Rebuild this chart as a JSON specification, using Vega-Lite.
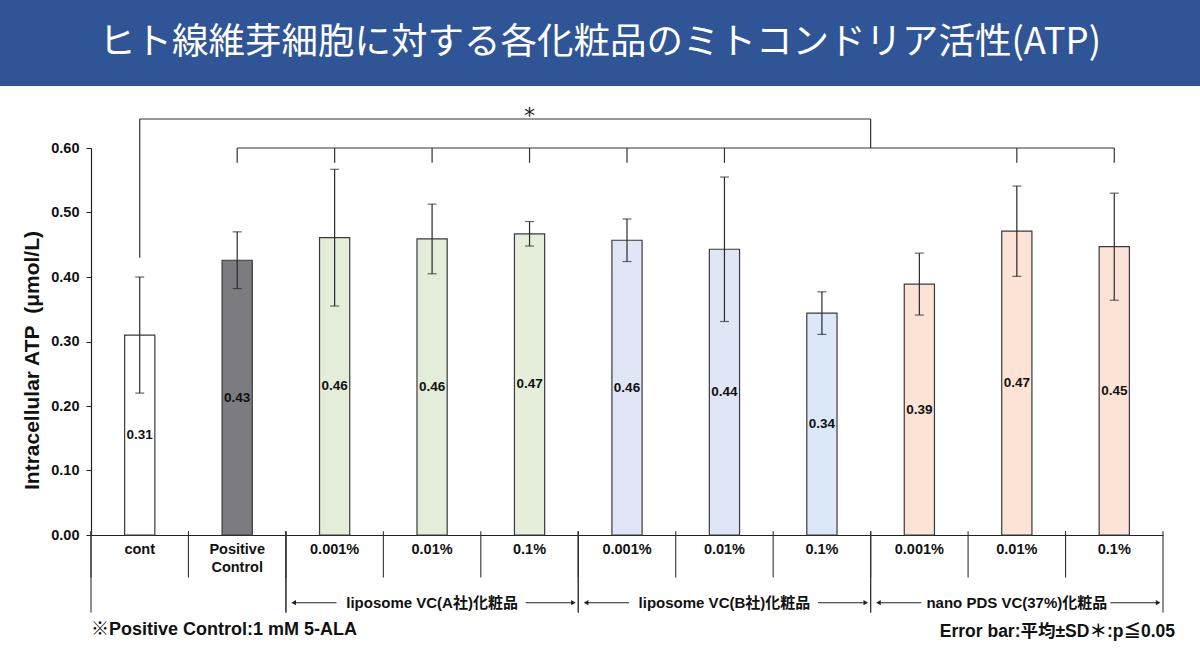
{
  "$schema": "https://vega.github.io/schema/vega-lite/v6.json",
  "padding": 0,
  "background": "white",
  "datasets": {
    "bars": [
      {"cat": "cont", "label": "cont", "mean": 0.31, "sd": 0.09},
      {"cat": "pc", "label": "Positive\nControl", "mean": 0.426, "sd": 0.044},
      {"cat": "A1", "label": "0.001%", "mean": 0.461, "sd": 0.106},
      {"cat": "A2", "label": "0.01%", "mean": 0.459, "sd": 0.054},
      {"cat": "A3", "label": "0.1%", "mean": 0.467, "sd": 0.019},
      {"cat": "B1", "label": "0.001%", "mean": 0.457, "sd": 0.033},
      {"cat": "B2", "label": "0.01%", "mean": 0.443, "sd": 0.112},
      {"cat": "B3", "label": "0.1%", "mean": 0.344, "sd": 0.033},
      {"cat": "P1", "label": "0.001%", "mean": 0.389, "sd": 0.048},
      {"cat": "P2", "label": "0.01%", "mean": 0.471, "sd": 0.07},
      {"cat": "P3", "label": "0.1%", "mean": 0.447, "sd": 0.083}
    ],
    "groups": [
      {"first": "cont", "mid": "cont", "last": "pc", "name": ""},
      {"first": "A1", "mid": "A2", "last": "A3", "name": "liposome VC(A社)化粧品"},
      {"first": "B1", "mid": "B2", "last": "B3", "name": "liposome VC(B社)化粧品"},
      {"first": "P1", "mid": "P2", "last": "P3", "name": "nano PDS VC(37%)化粧品"}
    ]
  },
  "vconcat": [
    {
      "width": 1200,
      "height": 86,
      "view": {"fill": "#2F5597", "stroke": null},
      "data": {"values": [{"t": "ヒト線維芽細胞に対する各化粧品のミトコンドリア活性(ATP)"}]},
      "mark": {"type": "text", "color": "white", "fontSize": 36.5, "font": "Noto Sans CJK JP", "baseline": "middle", "align": "center"},
      "encoding": {"text": {"field": "t"}}
    },
    {
      "hconcat": [
        {
          "width": 91,
          "height": 387,
          "data": {"values": []},
          "mark": "point"
        },
        {
          "width": 1072,
          "height": 387,
          "layer": [
            {
              "layer": [
                {
                  "data": {"name": "bars"},
                  "mark": {"type": "bar", "width": {"band": 0.31}, "stroke": "#3a3a3a", "strokeWidth": 1.2},
                  "encoding": {
                    "x": {"field": "cat", "type": "nominal", "title": null, "scale": {"type": "band", "domain": ["cont","pc","A1","A2","A3","B1","B2","B3","P1","P2","P3"], "paddingInner": 0, "paddingOuter": 0}},
                    "y": {"field": "mean", "type": "quantitative", "title": "Intracellular ATP\u00a0\u00a0(μmol/L)", "scale": {"domain": [0, 0.6], "nice": false, "zero": true}, "axis": {"values": [0, 0.1, 0.2, 0.3, 0.4, 0.5, 0.6], "format": ".2f"}},
                    "color": {"field": "cat", "type": "nominal", "legend": null, "scale": {"domain": ["cont","pc","A1","A2","A3","B1","B2","B3","P1","P2","P3"], "range": ["#ffffff","#7c7b80","#e3edd9","#e3edd9","#e4eeda","#e0e6f5","#e0e6f5","#dbe8f8","#fce3d6","#fce3d6","#fce3d6"]}}
                  }
                },
                {
                  "data": {"name": "bars"},
                  "mark": {"type": "errorbar", "ticks": true, "size": 9, "thickness": 1.2, "color": "#2a2a2a"},
                  "encoding": {
                    "x": {"field": "cat", "type": "nominal", "title": null, "scale": {"type": "band", "domain": ["cont","pc","A1","A2","A3","B1","B2","B3","P1","P2","P3"], "paddingInner": 0, "paddingOuter": 0}},
                    "y": {"field": "mean", "type": "quantitative", "title": "Intracellular ATP\u00a0\u00a0(μmol/L)", "scale": {"domain": [0, 0.6], "nice": false, "zero": true}},
                    "yError": {"field": "sd"}
                  }
                },
                {
                  "data": {"name": "bars"},
                  "mark": {"type": "rule", "color": "#333", "strokeWidth": 1.1},
                  "encoding": {
                    "x": {"field": "cat", "type": "nominal", "title": null, "bandPosition": 0, "scale": {"type": "band", "domain": ["cont","pc","A1","A2","A3","B1","B2","B3","P1","P2","P3"], "paddingInner": 0, "paddingOuter": 0}},
                    "y": {"datum": 0.006, "type": "quantitative"},
                    "y2": {"datum": -0.066}
                  }
                },
                {
                  "data": {"name": "groups"},
                  "mark": {"type": "rule", "color": "#333", "strokeWidth": 1.1},
                  "encoding": {
                    "x": {"field": "first", "type": "nominal", "title": null, "bandPosition": 0, "scale": {"type": "band", "domain": ["cont","pc","A1","A2","A3","B1","B2","B3","P1","P2","P3"], "paddingInner": 0, "paddingOuter": 0}},
                    "y": {"datum": 0.006, "type": "quantitative"},
                    "y2": {"datum": -0.12}
                  }
                },
                {
                  "data": {"name": "groups"},
                  "mark": {"type": "rule", "color": "#333", "strokeWidth": 1.1},
                  "encoding": {
                    "x": {"field": "last", "type": "nominal", "title": null, "bandPosition": 1, "scale": {"type": "band", "domain": ["cont","pc","A1","A2","A3","B1","B2","B3","P1","P2","P3"], "paddingInner": 0, "paddingOuter": 0}},
                    "y": {"datum": 0.006, "type": "quantitative"},
                    "y2": {"datum": -0.12}
                  }
                },
                {
                  "data": {"name": "bars"},
                  "mark": {"type": "text", "fontSize": 14.5, "fontWeight": "bold", "baseline": "top", "lineBreak": "\n", "lineHeight": 18, "color": "#111"},
                  "encoding": {
                    "x": {"field": "cat", "type": "nominal", "title": null, "scale": {"type": "band", "domain": ["cont","pc","A1","A2","A3","B1","B2","B3","P1","P2","P3"], "paddingInner": 0, "paddingOuter": 0}},
                    "y": {"datum": -0.013, "type": "quantitative"},
                    "text": {"field": "label"}
                  }
                },
                {
                  "data": {"name": "groups"},
                  "transform": [{"filter": "datum.name != ''"}],
                  "layer": [
                    {
                      "mark": {"type": "text", "fontSize": 15, "fontWeight": "bold", "baseline": "middle", "color": "#111"},
                      "encoding": {
                        "x": {"field": "mid", "type": "nominal", "title": null, "scale": {"type": "band", "domain": ["cont","pc","A1","A2","A3","B1","B2","B3","P1","P2","P3"], "paddingInner": 0, "paddingOuter": 0}},
                        "y": {"datum": -0.105, "type": "quantitative"},
                        "text": {"field": "name"}
                      }
                    },
                    {
                      "mark": {"type": "rule", "color": "#222", "strokeWidth": 1.1},
                      "encoding": {
                        "x": {"field": "first", "type": "nominal", "title": null, "bandPosition": 0.08, "scale": {"type": "band", "domain": ["cont","pc","A1","A2","A3","B1","B2","B3","P1","P2","P3"], "paddingInner": 0, "paddingOuter": 0}},
                        "x2": {"field": "first", "bandPosition": 0.52},
                        "y": {"datum": -0.105, "type": "quantitative"}
                      }
                    },
                    {
                      "mark": {"type": "rule", "color": "#222", "strokeWidth": 1.1},
                      "encoding": {
                        "x": {"field": "last", "type": "nominal", "title": null, "bandPosition": 0.46, "scale": {"type": "band", "domain": ["cont","pc","A1","A2","A3","B1","B2","B3","P1","P2","P3"], "paddingInner": 0, "paddingOuter": 0}},
                        "x2": {"field": "last", "bandPosition": 0.95},
                        "y": {"datum": -0.105, "type": "quantitative"}
                      }
                    },
                    {
                      "mark": {"type": "point", "shape": "triangle-left", "filled": true, "size": 28, "color": "#222", "opacity": 1},
                      "encoding": {
                        "x": {"field": "first", "type": "nominal", "title": null, "bandPosition": 0.08, "scale": {"type": "band", "domain": ["cont","pc","A1","A2","A3","B1","B2","B3","P1","P2","P3"], "paddingInner": 0, "paddingOuter": 0}},
                        "y": {"datum": -0.105, "type": "quantitative"}
                      }
                    },
                    {
                      "mark": {"type": "point", "shape": "triangle-right", "filled": true, "size": 28, "color": "#222", "opacity": 1},
                      "encoding": {
                        "x": {"field": "last", "type": "nominal", "title": null, "bandPosition": 0.95, "scale": {"type": "band", "domain": ["cont","pc","A1","A2","A3","B1","B2","B3","P1","P2","P3"], "paddingInner": 0, "paddingOuter": 0}},
                        "y": {"datum": -0.105, "type": "quantitative"}
                      }
                    }
                  ]
                },
                {
                  "data": {"values": [{"a": "cont", "b": "P1"}]},
                  "layer": [
                    {
                      "mark": {"type": "rule", "color": "#333", "strokeWidth": 1.2},
                      "encoding": {
                        "x": {"field": "a", "type": "nominal", "title": null, "scale": {"type": "band", "domain": ["cont","pc","A1","A2","A3","B1","B2","B3","P1","P2","P3"], "paddingInner": 0, "paddingOuter": 0}},
                        "x2": {"field": "b", "bandPosition": 0},
                        "y": {"datum": 0.645, "type": "quantitative"}
                      }
                    },
                    {
                      "mark": {"type": "rule", "color": "#333", "strokeWidth": 1.2},
                      "encoding": {
                        "x": {"field": "a", "type": "nominal", "title": null, "scale": {"type": "band", "domain": ["cont","pc","A1","A2","A3","B1","B2","B3","P1","P2","P3"], "paddingInner": 0, "paddingOuter": 0}},
                        "y": {"datum": 0.645, "type": "quantitative"},
                        "y2": {"datum": 0.43}
                      }
                    },
                    {
                      "mark": {"type": "rule", "color": "#333", "strokeWidth": 1.2},
                      "encoding": {
                        "x": {"field": "b", "type": "nominal", "title": null, "bandPosition": 0, "scale": {"type": "band", "domain": ["cont","pc","A1","A2","A3","B1","B2","B3","P1","P2","P3"], "paddingInner": 0, "paddingOuter": 0}},
                        "y": {"datum": 0.645, "type": "quantitative"},
                        "y2": {"datum": 0.6}
                      }
                    }
                  ]
                },
                {
                  "data": {"values": [{"a": "pc", "b": "P3"}]},
                  "mark": {"type": "rule", "color": "#333", "strokeWidth": 1.2},
                  "encoding": {
                    "x": {"field": "a", "type": "nominal", "title": null, "scale": {"type": "band", "domain": ["cont","pc","A1","A2","A3","B1","B2","B3","P1","P2","P3"], "paddingInner": 0, "paddingOuter": 0}},
                    "x2": {"field": "b", "bandPosition": 0.5},
                    "y": {"datum": 0.6, "type": "quantitative"}
                  }
                },
                {
                  "data": {"name": "bars"},
                  "transform": [{"filter": "datum.cat != 'cont' && datum.cat != 'B3' && datum.cat != 'P1'"}],
                  "mark": {"type": "rule", "color": "#333", "strokeWidth": 1.2},
                  "encoding": {
                    "x": {"field": "cat", "type": "nominal", "title": null, "scale": {"type": "band", "domain": ["cont","pc","A1","A2","A3","B1","B2","B3","P1","P2","P3"], "paddingInner": 0, "paddingOuter": 0}},
                    "y": {"datum": 0.6, "type": "quantitative"},
                    "y2": {"datum": 0.577}
                  }
                },
                {
                  "data": {"values": [{"cat": "A3", "sig": "*"}]},
                  "mark": {"type": "text", "fontSize": 22, "font": "DejaVu Sans", "baseline": "middle", "color": "#222"},
                  "encoding": {
                    "x": {"field": "cat", "type": "nominal", "title": null, "scale": {"type": "band", "domain": ["cont","pc","A1","A2","A3","B1","B2","B3","P1","P2","P3"], "paddingInner": 0, "paddingOuter": 0}},
                    "y": {"datum": 0.65, "type": "quantitative"},
                    "text": {"field": "sig"}
                  }
                },
                {
                  "data": {"values": [{"cat": "cont", "note": "※Positive Control:1 mM 5-ALA"}]},
                  "mark": {"type": "text", "fontSize": 18, "fontWeight": "bold", "align": "left", "baseline": "middle", "color": "#111"},
                  "encoding": {
                    "x": {"field": "cat", "type": "nominal", "title": null, "bandPosition": 0, "scale": {"type": "band", "domain": ["cont","pc","A1","A2","A3","B1","B2","B3","P1","P2","P3"], "paddingInner": 0, "paddingOuter": 0}},
                    "y": {"datum": -0.147, "type": "quantitative"},
                    "text": {"field": "note"}
                  }
                },
                {
                  "data": {"values": [{"cat": "P3", "note": "Error bar:平均±SD＊:p≦0.05"}]},
                  "mark": {"type": "text", "fontSize": 17.5, "fontWeight": "bold", "align": "right", "baseline": "middle", "dx": 12, "color": "#111"},
                  "encoding": {
                    "x": {"field": "cat", "type": "nominal", "title": null, "bandPosition": 1, "scale": {"type": "band", "domain": ["cont","pc","A1","A2","A3","B1","B2","B3","P1","P2","P3"], "paddingInner": 0, "paddingOuter": 0}},
                    "y": {"datum": -0.151, "type": "quantitative"},
                    "text": {"field": "note"}
                  }
                }
              ]
            },
            {
              "data": {"name": "bars"},
              "mark": {"type": "text", "fontSize": 13.5, "fontWeight": "bold", "baseline": "middle", "color": "#111"},
              "encoding": {
                "x": {"field": "cat", "type": "nominal", "title": null, "scale": {"type": "band", "domain": ["cont","pc","A1","A2","A3","B1","B2","B3","P1","P2","P3"], "paddingInner": 0, "paddingOuter": 0}},
                "y": {"field": "mean", "type": "quantitative", "axis": null, "scale": {"domain": [0, 1.2], "nice": false, "zero": true}},
                "text": {"field": "mean", "type": "quantitative", "format": ".2f"}
              }
            }
          ],
          "resolve": {"scale": {"y": "independent"}}
        }
      ],
      "spacing": 0,
      "bounds": "flush"
    }
  ],
  "spacing": 62,
  "bounds": "flush",
  "config": {
    "font": "Liberation Sans, Noto Sans CJK JP, sans-serif",
    "view": {"stroke": null},
    "axisX": {"labels": false, "ticks": false, "domainColor": "#222", "domainWidth": 1.2},
    "axisY": {"grid": false, "tickSize": 5, "tickColor": "#222", "domainColor": "#222", "domainWidth": 1.2, "labelFontSize": 14.5, "labelFontWeight": "bold", "labelColor": "#111", "labelPadding": 7, "titleFontSize": 21, "titleFontWeight": "bold", "titleColor": "#111", "titlePadding": 8, "titleY": 212}
  }
}
